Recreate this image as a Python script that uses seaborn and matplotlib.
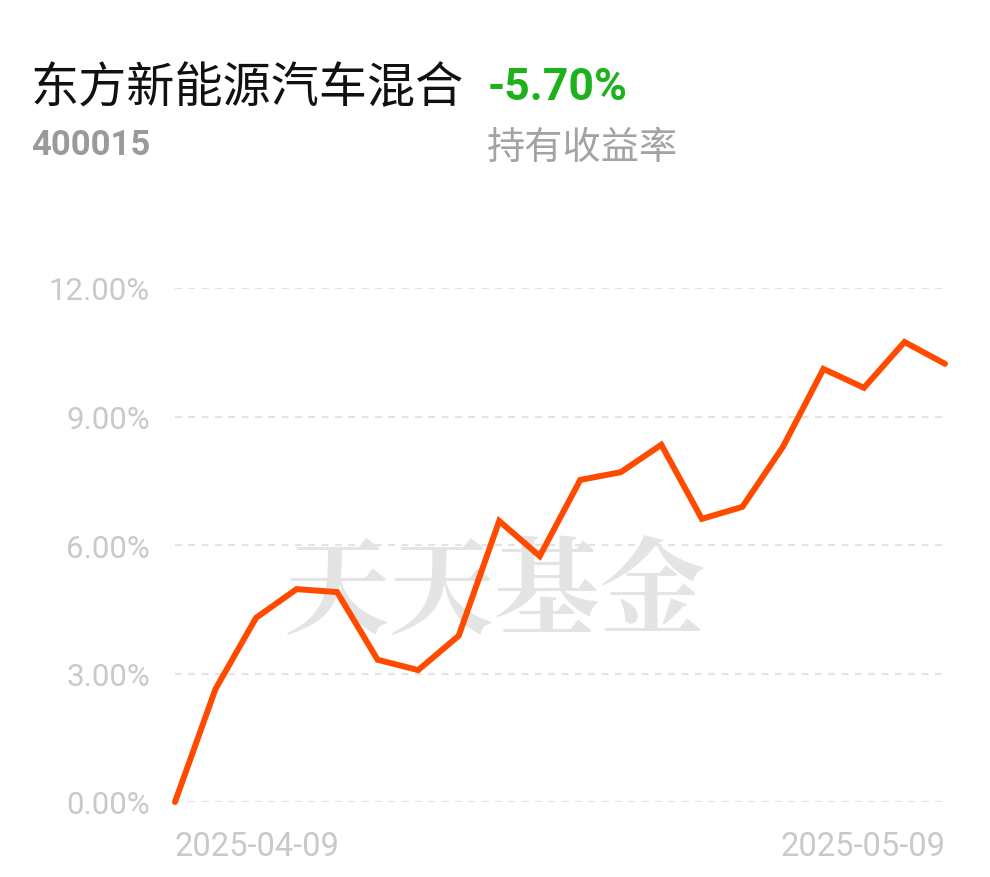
import pandas as pd
import matplotlib
matplotlib.use("Agg")
import matplotlib.pyplot as plt
import seaborn as sns

# 持有收益率 (%) 按交易日
dates = ["2025-04-09", "2025-04-10", "2025-04-11", "2025-04-14", "2025-04-15",
         "2025-04-16", "2025-04-17", "2025-04-18", "2025-04-21", "2025-04-22",
         "2025-04-23", "2025-04-24", "2025-04-25", "2025-04-28", "2025-04-29",
         "2025-04-30", "2025-05-06", "2025-05-07", "2025-05-08", "2025-05-09"]
returns = [0.00, 2.64, 4.30, 4.97, 4.90, 3.32, 3.08, 3.88, 6.56, 5.74,
           7.52, 7.70, 8.34, 6.61, 6.89, 8.29, 10.11, 9.67, 10.74, 10.23]
y_ticks = [0, 3, 6, 9, 12]

fund_name = "东方新能源汽车混合"
fund_code = "400015"
hold_return = "-5.70%"
return_label = "持有收益率"
watermark = "天天基金"

sns.set_theme(style="white")
plt.rcParams['font.family'] = ['Noto Sans CJK SC', 'DejaVu Sans']

df = pd.DataFrame({"idx": range(len(dates)), "date": dates, "ret": returns})

fig = plt.figure(figsize=(9.9, 8.78), dpi=100)
ax = fig.add_axes([175 / 990, 75 / 878, 770 / 990, 514 / 878])

# 水印
ax.text(0.416, 0.405, watermark, transform=ax.transAxes, ha="center", va="center",
        fontsize=76, fontweight="bold", color="#e4e4e4", zorder=0,
        family=['Noto Serif CJK SC', 'Noto Sans CJK SC'])

sns.lineplot(data=df, x="idx", y="ret", ax=ax, color="#ff4a00", linewidth=4.3,
             zorder=3, solid_capstyle="round", solid_joinstyle="miter")
for ln in ax.lines:
    ln.set_clip_on(False)

ax.set_xlim(0, len(dates) - 1)
ax.set_ylim(0, 12)
ax.set_yticks(y_ticks)
ax.set_yticklabels([f"{v:.2f}%" for v in y_ticks])
for v in y_ticks:
    ax.axhline(v, color="#e3e3e3", linewidth=1.6, linestyle=(0, (3, 3)), zorder=1)

ax.set_xticks([0, len(dates) - 1])
ax.set_xticklabels([dates[0], dates[-1]])
labels = ax.get_xticklabels()
labels[0].set_ha("left")
labels[1].set_ha("right")

ax.tick_params(axis="y", length=0, pad=18, labelsize=22.5, labelcolor="#c9c9c9")
ax.tick_params(axis="x", length=0, pad=20, labelsize=23.5, labelcolor="#c9c9c9")
for lab in ax.get_xticklabels():
    lab.set_family(['Roboto', 'DejaVu Sans'])
for lab in ax.get_yticklabels():
    lab.set_family(['Roboto', 'DejaVu Sans'])

ax.set_xlabel("")
ax.set_ylabel("")
for s in ax.spines.values():
    s.set_visible(False)
ax.grid(False)

# 标题区
fig.text(31 / 990, 1 - 88 / 878, fund_name, ha="left", va="center",
         fontsize=34.7, color="#111111")
fig.text(488 / 990, 1 - 88 / 878, hold_return, ha="left", va="center",
         fontsize=32, fontweight="bold", color="#1db21d",
         family=['Roboto', 'DejaVu Sans'])
fig.text(31 / 990, 1 - 146 / 878, fund_code, ha="left", va="center",
         fontsize=25, fontweight="bold", color="#9a9a9a",
         family=['Roboto', 'DejaVu Sans'])
fig.text(487 / 990, 1 - 148 / 878, return_label, ha="left", va="center",
         fontsize=27.5, color="#a3a3a3")

fig.savefig("out.png", dpi=100, facecolor="white")
